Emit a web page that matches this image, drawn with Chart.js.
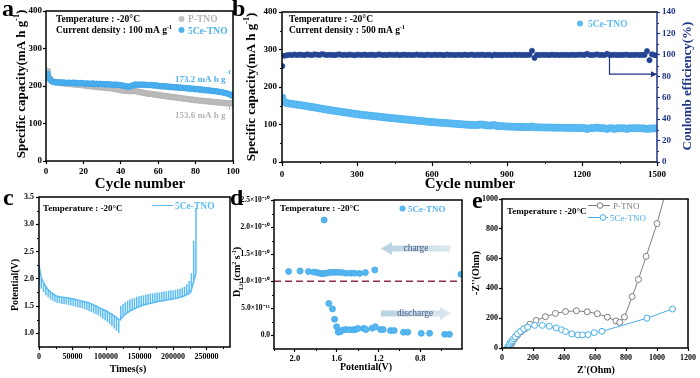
<!DOCTYPE html>
<html><head><meta charset="utf-8">
<script src="https://cdn.jsdelivr.net/npm/chart.js@4.4.1/dist/chart.umd.min.js"></script>
<style>
html,body{margin:0;padding:0;background:#fff;}
#wrap{position:relative;width:700px;height:378px;overflow:hidden;background:#fff;}
canvas{position:absolute;}
</style></head><body>
<div id="wrap">
<canvas id="cb" width="470" height="192" style="left:230px;top:0px"></canvas>
<canvas id="ca" width="250" height="192" style="left:0px;top:0px"></canvas>
<canvas id="cd" width="240" height="188" style="left:230px;top:190px"></canvas>
<canvas id="cc" width="240" height="188" style="left:0px;top:190px"></canvas>
<canvas id="ce" width="230" height="188" style="left:470px;top:190px"></canvas>
</div>
<script>
// ---------------- DATA ----------------
// Panel a: cycling at 100 mA/g, -20 C
const aCycles = [1,2,3,4,5,6,7,8,9,10,11,12,13,14,15,16,17,18,19,20,21,22,23,24,25,26,27,28,29,30,31,32,33,34,35,36,37,38,39,40,41,42,43,44,45,46,47,48,49,50,51,52,53,54,55,56,57,58,59,60,61,62,63,64,65,66,67,68,69,70,71,72,73,74,75,76,77,78,79,80,81,82,83,84,85,86,87,88,89,90,91,92,93,94,95,96,97,98,99,100];
const a5CeTNO = [232,218,213,211,210,210,209,210,209,209,208,209,208,208,209,207,208,207,208,207,206,207,206,206,207,205,206,205,206,205,205,204,205,204,204,203,204,203,203,202,201,200,199,198,199,200,203,204,203,204,203,204,203,203,202,203,202,201,202,200,200,199,200,198,199,197,198,197,196,197,195,196,195,194,195,193,194,192,193,191,192,190,191,189,190,188,189,187,187,186,186,185,184,184,182,181,180,178,176,173.2];
const aPTNO = [240,222,214,211,210,209,208,208,207,207,206,206,205,205,204,204,203,203,202,202,201,200,200,199,199,198,198,197,197,196,196,195,195,194,194,193,192,191,190,189,188,188,187,187,186,186,187,186,185,184,183,182,181,180,179,179,178,177,177,176,175,174,174,173,172,172,171,170,170,169,168,168,167,166,166,165,164,164,163,162,162,161,161,160,160,159,159,158,158,157,157,156,156,155,155,154,154,154,153.8,153.6];
const aXTicks = [0,20,40,60,80,100];
const aYTicks = [0,100,200,300,400];

// Panel b: long cycling at 500 mA/g (read every 10 cycles)
const bCycles = [1,10,20,30,40,50,60,70,80,90,100,110,120,130,140,150,160,170,180,190,200,210,220,230,240,250,260,270,280,290,300,310,320,330,340,350,360,370,380,390,400,410,420,430,440,450,460,470,480,490,500,510,520,530,540,550,560,570,580,590,600,610,620,630,640,650,660,670,680,690,700,710,720,730,740,750,760,770,780,790,800,810,820,830,840,850,860,870,880,890,900,910,920,930,940,950,960,970,980,990,1000,1010,1020,1030,1040,1050,1060,1070,1080,1090,1100,1110,1120,1130,1140,1150,1160,1170,1180,1190,1200,1210,1220,1230,1240,1250,1260,1270,1280,1290,1300,1310,1320,1330,1340,1350,1360,1370,1380,1390,1400,1410,1420,1430,1440,1450,1460,1470,1480,1490,1500];
const bCapacity = [172,
160,157,156,155,154,153,152,151,150,149,
147.5,146.5,145.5,144.5,143,142,141,139.5,138.5,137.5,
136.5,135.5,134.5,133.5,132.5,131.5,130.5,129.5,128.5,127.5,
126.5,126,125,124.5,123.5,123,122,121.5,120.5,120,
119,118.5,117.5,117,116.5,115.5,115,114.5,113.5,113,
112.5,111.5,111,110.5,109.5,109,108.5,107.5,107,106.5,
106,105.5,105,104.5,104,103.5,103,102.5,102,101.5,
101,100.5,100,99.5,99,99,98.5,98.5,99.5,100,
98.5,97.5,97,98,98.5,96,95.5,95.5,95,94.5,
94.5,94,94,93.5,93.5,93.5,93,93,93,94.5,
92.5,92.5,92.5,92,92,92,92,91.5,91.5,91.5,
91.5,91.5,91,91,91,91,91,91,90.5,90.5,
90.5,88,90,90.5,90.5,92,90.5,90,90,88,
90,90,88,90,90,90,90,88,90,90,
90,90,90,89.5,89.5,88,89,89.5,89.5,89.5];
const bCoulombEff = [89.5,
99.2,99.6,100.1,99.8,100.3,99.9,100.2,100.0,99.7,100.4,
100.1,99.8,100.5,100.2,99.9,100.6,100.3,99.8,100.1,100.0,
99.7,100.2,100.4,99.9,100.1,99.8,100.3,100.0,99.6,100.2,
100.1,99.9,100.3,99.8,100.0,100.2,99.7,100.1,100.4,99.9,
100.0,99.8,100.2,100.1,99.9,100.3,99.7,100.0,100.2,99.9,
100.1,99.8,100.0,100.3,99.9,100.1,99.7,100.2,100.0,99.8,
100.2,99.9,100.1,100.0,99.7,100.3,99.9,100.1,99.8,100.0,
100.1,99.8,100.2,99.9,100.0,100.3,99.7,100.1,99.9,100.2,
99.8,100.0,100.1,99.4,100.2,99.9,100.0,99.8,100.1,99.9,
100.0,99.8,100.2,99.9,100.1,99.8,100.0,99.9,100.1,103.8,
97.2,100.0,99.8,100.1,99.9,100.0,99.8,100.2,99.9,100.0,
99.8,100.1,99.9,100.0,99.8,100.1,99.9,100.0,100.2,100.1,
99.9,101.0,100.0,99.8,100.1,100.4,99.9,100.0,99.8,101.0,
100.0,99.9,100.1,99.8,100.0,99.9,100.1,100.2,99.8,100.0,
99.9,100.1,99.8,100.0,99.9,103.5,95.0,100.5,99.8,99.5];
const bXTicks = [0,300,600,900,1200,1500];
const bYTicks = [0,100,200,300,400];
const bY2Ticks = [0,20,40,60,80,100,120,140];

// Panel c: GITT (times in s, potentials in V)
const cDisTime = [0,3400,6800,10200,13600,17000,20400,23800,27200,30600,34000,37400,40800,44200,47600,51000,54400,57800,61200,64600,68000,71400,74800,78200,81600,85000,88400,91800,95200,98600,102000,105400,108800,112200,115600,119000];
const cDisRelax = [2.25,2.02,1.93,1.86,1.80,1.76,1.73,1.70,1.68,1.67,1.66,1.66,1.65,1.65,1.64,1.63,1.62,1.61,1.60,1.59,1.58,1.57,1.56,1.54,1.52,1.50,1.48,1.46,1.44,1.42,1.40,1.37,1.35,1.32,1.29,1.25];
const cDisPulse = [1.90,1.82,1.76,1.70,1.66,1.62,1.60,1.58,1.56,1.55,1.54,1.54,1.53,1.52,1.51,1.50,1.49,1.48,1.47,1.46,1.44,1.43,1.41,1.39,1.37,1.35,1.33,1.30,1.27,1.24,1.21,1.17,1.13,1.09,1.05,1.00];
const cChgTime = [122000,125400,128800,132200,135600,139000,142400,145800,149200,152600,156000,159400,162800,166200,169600,173000,176400,179800,183200,186600,190000,193400,196800,200200,203600,207000,210400,213800,217200,220600,224000,227400,230800,234200];
const cChgRelax = [1.26,1.31,1.35,1.38,1.41,1.43,1.45,1.47,1.49,1.50,1.52,1.53,1.54,1.55,1.56,1.57,1.58,1.59,1.60,1.60,1.61,1.62,1.62,1.63,1.64,1.65,1.66,1.67,1.69,1.71,1.74,1.80,1.95,2.10];
const cChgPulse = [1.50,1.54,1.57,1.60,1.62,1.64,1.65,1.67,1.68,1.69,1.70,1.71,1.72,1.73,1.73,1.74,1.75,1.75,1.76,1.77,1.77,1.78,1.79,1.79,1.80,1.81,1.82,1.84,1.86,1.90,1.96,2.10,2.70,3.30];
const cXTicks = [0,50000,100000,150000,200000,250000];
const cYTicks = [1.0,1.5,2.0,2.5,3.0,3.5];

// Panel d: Li+ diffusion coefficient (units of 1e-10 cm2/s) vs potential (V)
const dChargeV = [2.06,1.95,1.87,1.82,1.79,1.765,1.74,1.72,1.72,1.70,1.67,1.645,1.615,1.585,1.55,1.51,1.465,1.43,1.38,1.325,1.235,0.41];
const dChargeD = [1.18,1.19,1.18,1.17,1.16,1.15,1.14,2.13,1.145,1.15,1.16,1.165,1.165,1.165,1.16,1.15,1.15,1.15,1.145,1.16,1.21,1.13];
const dDischargeV = [1.675,1.64,1.62,1.60,1.585,1.565,1.54,1.51,1.475,1.44,1.42,1.395,1.34,1.32,1.26,1.23,1.18,1.155,1.085,1.05,0.96,0.92,0.79,0.71,0.565,0.52];
const dDischargeD = [0.59,0.49,0.30,0.16,0.06,0.07,0.10,0.11,0.105,0.105,0.11,0.13,0.13,0.11,0.135,0.16,0.11,0.11,0.09,0.09,0.06,0.06,0.04,0.04,0.02,0.02];
const dRefLevel = 1.0;
const dXTicks = [2.0,1.6,1.2,0.8];
const dYTicks = [0,0.5,1.0,1.5,2.0,2.5];
const dYLabels = ['0.0','5.0×10⁻¹¹','1.0×10⁻¹⁰','1.5×10⁻¹⁰','2.0×10⁻¹⁰','2.5×10⁻¹⁰'];

// Panel e: Nyquist plots (Ohm)
const ePTNO_Zre = [45,55,65,80,100,125,150,180,220,280,345,410,480,550,615,680,735,760,790,840,880,930,1000,1065];
const ePTNO_Zim = [0,15,35,60,85,110,130,160,185,210,232,245,250,243,230,207,182,172,208,345,460,615,835,1080];
const e5Ce_Zre = [35,40,45,50,58,66,75,85,100,120,140,165,210,260,305,350,385,410,450,490,520,555,595,645,935,1100];
const e5Ce_Zim = [0,10,20,30,40,50,62,75,95,112,128,140,152,152,146,135,122,110,95,88,88,90,103,112,200,262];
const eXTicks = [0,200,400,600,800,1000,1200];
const eYTicks = [0,200,400,600,800,1000];

// ---------------- STYLE / HELPERS ----------------
const SER = '"Liberation Serif","Times New Roman",serif';
const BLUE = '#4fb2ef', BLUE_C = '#5bbcf3', GRAYA = '#c2c2c2', GRAYT = '#b3b3b3';
const NAVY = '#1f3585', NAVYD = '#22418f', GRAYE = '#7d7d7d', BLUEE = '#47afea';
Chart.defaults.font.family = SER;
Chart.defaults.color = '#000';

function pts(xs, ys){ return xs.map((x,i)=>({x:x, y:ys[i]})); }
function gitt(t, a, b){ const p=[]; t.forEach((x,i)=>{ p.push({x:x,y:a[i]},{x:x,y:b[i]},{x:x,y:a[i]}); }); return p; }

function axisOpts(o){
  return {
    type:'linear', position:o.pos, min:o.min, max:o.max, reverse:!!o.reverse,
    afterBuildTicks: s=>{ s.ticks = o.ticks.map(v=>({value:v})); },
    afterFit: s=>{ if(o.pos==='bottom') s.height=o.fit; else s.width=o.fit; s.paddingLeft=0; s.paddingRight=0; s.paddingTop=0; s.paddingBottom=0; },
    grid:{drawOnChartArea:false, drawTicks:true, tickLength:o.tl||3, tickColor:o.color||'#000', tickWidth:1.2},
    border:{display:false},
    ticks:{autoSkip:false, maxRotation:0, minRotation:0, padding:(o.pad==null?2:o.pad), color:o.color||'#000',
      font:{family:SER, size:o.size||9, weight:'bold'}, callback: o.labels || (v=>String(v))},
    title:{display:false}
  };
}
function common(pad, scales){
  return {responsive:false, animation:false, devicePixelRatio:1, events:[],
    layout:{padding:pad}, plugins:{legend:{display:false}, tooltip:{enabled:false}}, scales:scales};
}
function drawRich(ctx, t){
  ctx.save();
  const sz0 = t.segs[0][1];
  ctx.translate(t.x + (t.rot ? sz0*0.33 : 0), t.y);
  if(t.rot) ctx.rotate(-Math.PI/2);
  let total=0; const ws=[];
  t.segs.forEach(s=>{ ctx.font=(s[4]||'bold')+' '+s[1]+'px '+SER; const w=ctx.measureText(s[0]).width; ws.push(w); total+=w; });
  let cx = t.align==='center' ? -total/2 : (t.align==='right' ? -total : 0);
  ctx.textBaseline='alphabetic'; ctx.textAlign='left';
  t.segs.forEach((s,i)=>{ ctx.font=(s[4]||'bold')+' '+s[1]+'px '+SER; ctx.fillStyle=s[3]||'#000'; ctx.fillText(s[0], cx, s[2]||0); cx+=ws[i]; });
  ctx.restore();
}
function dot(ctx,x,y,r,fill,stroke){ ctx.beginPath(); ctx.arc(x,y,r,0,Math.PI*2); ctx.fillStyle=fill; ctx.fill(); if(stroke){ctx.strokeStyle=stroke;ctx.lineWidth=1;ctx.stroke();} }
function deco(spec){
  return {id:'deco',
    afterDatasetsDraw(chart){
      const ctx=chart.ctx, ca=chart.chartArea;
      ctx.save();
      (spec.minor||[]).forEach(m=>{
        const sc=chart.scales[m.axis]; ctx.strokeStyle=m.color||'#000'; ctx.lineWidth=1;
        m.vals.forEach(v=>{
          const p=Math.round(sc.getPixelForValue(v))+0.5; ctx.beginPath();
          if(m.axis==='x'){ ctx.moveTo(p,ca.bottom); ctx.lineTo(p,ca.bottom+2); }
          else if(m.side==='right'){ ctx.moveTo(ca.right,p); ctx.lineTo(ca.right+2,p); }
          else { ctx.moveTo(ca.left,p); ctx.lineTo(ca.left-2,p); }
          ctx.stroke();
        });
      });
      const fc=spec.frame||{}; ctx.lineWidth=1.5;
      const L=ca.left, R=ca.right, T=ca.top, B=ca.bottom;
      const side=(c,x1,y1,x2,y2)=>{ctx.strokeStyle=c;ctx.beginPath();ctx.moveTo(x1,y1);ctx.lineTo(x2,y2);ctx.stroke();};
      side(fc.top||'#000',L-0.75,T,R+0.75,T);
      side(fc.bottom||'#000',L-0.75,B,R+0.75,B);
      side(fc.left||'#000',L,T,L,B);
      side(fc.right||'#000',R,T,R,B);
      if(spec.canvas) spec.canvas(ctx, chart);
      ctx.restore();
    },
    afterDraw(chart){
      const ctx=chart.ctx; ctx.save(); ctx.translate(-spec.ox,-spec.oy);
      if(spec.page) spec.page(ctx);
      (spec.texts||[]).forEach(t=>drawRich(ctx,t));
      ctx.restore();
    }
  };
}

// ---------------- PANEL A ----------------
new Chart(document.getElementById('ca'), {
  type:'scatter',
  data:{datasets:[
    {label:'5Ce-TNO', data:pts(aCycles,a5CeTNO), pointRadius:2.8, pointBackgroundColor:BLUE, pointBorderColor:'#3ea6ea', pointBorderWidth:0.8},
    {label:'P-TNO', data:pts(aCycles,aPTNO), pointRadius:2.8, pointBackgroundColor:GRAYA, pointBorderColor:'#b0b0b0', pointBorderWidth:0.8}
  ]},
  options: common({top:11,right:17,left:0,bottom:0}, {
    x: axisOpts({pos:'bottom',min:0,max:100,ticks:aXTicks,fit:31,tl:3,pad:2,size:9}),
    y: axisOpts({pos:'left',min:0,max:400,ticks:aYTicks,fit:46,tl:3,pad:1,size:9})
  }),
  plugins:[deco({ox:0,oy:0,
    page(ctx){ dot(ctx,181.5,19,3,GRAYA); dot(ctx,181.5,30,3,BLUE); },
    texts:[
      {x:2,y:16,segs:[['a',24]]},
      {x:56,y:21.5,segs:[['Temperature : -20°C',9.5]]},
      {x:56,y:32.5,segs:[['Current density : 100 mA g',9.5],['-1',6,-4]]},
      {x:188,y:22,segs:[['P-TNO',9.5,0,GRAYT]]},
      {x:188,y:33.5,segs:[['5Ce-TNO',9.5,0,BLUE]]},
      {x:175,y:82,segs:[['173.2 mA h g',9,0,BLUE],['-1',7,-8,BLUE]]},
      {x:175,y:118,segs:[['153.6 mA h g',9,0,GRAYT],['-1',7,-8,GRAYT]]},
      {x:20.5,y:84,rot:true,align:'center',segs:[['Specific capacity(mA h g',13],['-1',8,-6],[')',13]]},
      {x:140,y:188,align:'center',segs:[['Cycle number',15]]}
    ]})]
});

// ---------------- PANEL B ----------------
new Chart(document.getElementById('cb'), {
  type:'scatter',
  data:{datasets:[
    {label:'CE', yAxisID:'y2', data:pts(bCycles,bCoulombEff), pointRadius:2.6, pointBackgroundColor:NAVYD, pointBorderColor:'#2c4e9c', pointBorderWidth:0.8},
    {label:'5Ce-TNO', yAxisID:'y', data:pts(bCycles,bCapacity), pointRadius:3.6, pointBackgroundColor:'#5dbcf3', pointBorderColor:'#4fb3ef', pointBorderWidth:0.8}
  ]},
  options: common({top:12,right:0,left:0,bottom:0}, {
    x: axisOpts({pos:'bottom',min:0,max:1500,ticks:bXTicks,fit:30,tl:4,pad:3,size:9}),
    y: axisOpts({pos:'left',min:0,max:400,ticks:bYTicks,fit:52,tl:3,pad:2,size:9}),
    y2: axisOpts({pos:'right',min:0,max:140,ticks:bY2Ticks,fit:43,tl:3,pad:2,size:9,color:NAVY})
  }),
  plugins:[deco({ox:230,oy:0, frame:{right:NAVY},
    minor:[{axis:'x',vals:[150,450,750,1050,1350]},{axis:'y',vals:[50,150,250,350]},{axis:'y2',side:'right',color:NAVY,vals:[10,30,50,70,90,110,130]}],
    canvas(ctx, chart){
      const sx=chart.scales.x, s2=chart.scales.y2, ca=chart.chartArea;
      const x=sx.getPixelForValue(1310), y1=s2.getPixelForValue(99), y2=s2.getPixelForValue(82);
      ctx.strokeStyle=NAVY; ctx.lineWidth=1.2; ctx.beginPath(); ctx.moveTo(x,y1); ctx.lineTo(x,y2); ctx.lineTo(ca.right-1,y2); ctx.stroke();
      ctx.fillStyle=NAVY; ctx.beginPath(); ctx.moveTo(ca.right,y2); ctx.lineTo(ca.right-6,y2-3); ctx.lineTo(ca.right-6,y2+3); ctx.closePath(); ctx.fill();
    },
    page(ctx){ dot(ctx,580,23.5,3,'#5dbcf3'); },
    texts:[
      {x:232,y:16,segs:[['b',24]]},
      {x:289,y:22,segs:[['Temperature : -20°C',9.5]]},
      {x:289,y:33,segs:[['Current density : 500 mA g',9.5],['-1',6,-4]]},
      {x:588,y:27,segs:[['5Ce-TNO',9.5,0,'#5dbcf3']]},
      {x:251,y:87,rot:true,align:'center',segs:[['Specific capacity(mA h g',13],['-1',8,-6],[')',13]]},
      {x:687,y:86,rot:true,align:'center',segs:[['Coulomb efficiency(%)',13,0,NAVY]]},
      {x:470,y:188,align:'center',segs:[['Cycle number',15]]}
    ]})]
});

// ---------------- PANEL C ----------------
new Chart(document.getElementById('cc'), {
  type:'scatter',
  data:{datasets:[
    {label:'5Ce-TNO', data:gitt(cDisTime,cDisRelax,cDisPulse).concat(gitt(cChgTime,cChgRelax,cChgPulse)), showLine:true, borderColor:BLUE_C, borderWidth:1.5, pointRadius:0, tension:0}
  ]},
  options: common({top:7,right:10,left:0,bottom:0}, {
    x: axisOpts({pos:'bottom',min:0,max:285000,ticks:cXTicks,fit:31,tl:3,pad:2,size:8}),
    y: axisOpts({pos:'left',min:0.75,max:3.5,ticks:cYTicks,fit:39,tl:3,pad:2,size:8,labels:v=>v.toFixed(1)})
  }),
  plugins:[deco({ox:0,oy:190,
    minor:[{axis:'x',vals:[25000,75000,125000,175000,225000,275000]},{axis:'y',vals:[1.25,1.75,2.25,2.75,3.25]}],
    page(ctx){ ctx.strokeStyle=BLUE_C; ctx.lineWidth=1; ctx.beginPath(); ctx.moveTo(152,205.5); ctx.lineTo(173,205.5); ctx.stroke(); },
    texts:[
      {x:3,y:205,segs:[['c',24]]},
      {x:43,y:211,segs:[['Temperature : -20°C',9]]},
      {x:175,y:209,segs:[['5Ce-TNO',9.5,0,BLUE_C]]},
      {x:15,y:285,rot:true,align:'center',segs:[['Potential(V)',10]]},
      {x:128,y:372,align:'center',segs:[['Times(s)',10]]}
    ]})]
});

// ---------------- PANEL D ----------------
function fatArrow(ctx,xTail,xTip,y,fillA,fillB){
  const dir = xTip < xTail ? -1 : 1, hl=11, hh=6.5, sh=3;
  const g=ctx.createLinearGradient(xTail,0,xTip,0); g.addColorStop(0,fillA); g.addColorStop(1,fillB);
  ctx.fillStyle=g; ctx.beginPath();
  ctx.moveTo(xTail,y-sh); ctx.lineTo(xTip-dir*hl,y-sh); ctx.lineTo(xTip-dir*hl,y-hh); ctx.lineTo(xTip,y);
  ctx.lineTo(xTip-dir*hl,y+hh); ctx.lineTo(xTip-dir*hl,y+sh); ctx.lineTo(xTail,y+sh); ctx.closePath(); ctx.fill();
}
new Chart(document.getElementById('cd'), {
  type:'scatter',
  data:{datasets:[
    {label:'charge', data:pts(dChargeV,dChargeD), pointRadius:3, pointBackgroundColor:'#56b6f0', pointBorderColor:'#3fa7ea', pointBorderWidth:0.8},
    {label:'discharge', data:pts(dDischargeV,dDischargeD), pointRadius:3, pointBackgroundColor:'#56b6f0', pointBorderColor:'#3fa7ea', pointBorderWidth:0.8},
    {label:'ref', data:[{x:2.2,y:dRefLevel},{x:0.4,y:dRefLevel}], showLine:true, pointRadius:0, borderColor:'#8e2a55', borderWidth:1.5, borderDash:[7,4]}
  ]},
  options: common({top:10,right:8,left:0,bottom:0}, {
    x: axisOpts({pos:'bottom',min:0.4,max:2.2,reverse:true,ticks:dXTicks,fit:29,tl:3,pad:2,size:8.5,labels:v=>v.toFixed(1)}),
    y: axisOpts({pos:'left',min:-0.25,max:2.5,ticks:dYTicks,fit:44,tl:3,pad:1,size:7.5,labels:(v,i)=>dYLabels[i]})
  }),
  plugins:[deco({ox:230,oy:190,
    minor:[{axis:'x',vals:[2.2,1.8,1.4,1.0,0.6]},{axis:'y',vals:[0.25,0.75,1.25,1.75,2.25]}],
    page(ctx){
      dot(ctx,402.5,208.5,3,'#56b6f0');
      fatArrow(ctx,450,381,248.5,'#dbe8ef','#b8d2e0');
      fatArrow(ctx,381,451,313.5,'#b8d2e0','#dbe8ef');
    },
    texts:[
      {x:230,y:205,segs:[['d',24]]},
      {x:280,y:211,segs:[['Temperature : -20°C',9]]},
      {x:408,y:212,segs:[['5Ce-TNO',9,0,'#56b6f0']]},
      {x:237,y:272,rot:true,align:'center',segs:[['D',10],['Li+',6,3],['(cm',10],['2',6,-4],[' s',10],['-1',6,-4],[')',10]]},
      {x:366,y:370,align:'center',segs:[['Potential(V)',10]]},
      {x:416,y:251,align:'center',segs:[['charge',9.5,0,'#4b5a86','normal']]},
      {x:415,y:316,align:'center',segs:[['discharge',9.5,0,'#4b5a86','normal']]}
    ]})]
});

// ---------------- PANEL E ----------------
new Chart(document.getElementById('ce'), {
  type:'scatter',
  data:{datasets:[
    {label:'5Ce-TNO', data:pts(e5Ce_Zre,e5Ce_Zim), showLine:true, borderColor:BLUEE, borderWidth:1, pointRadius:3, pointBackgroundColor:'#fff', pointBorderColor:BLUEE, pointBorderWidth:1},
    {label:'P-TNO', data:pts(ePTNO_Zre,ePTNO_Zim), showLine:true, borderColor:GRAYE, borderWidth:1, pointRadius:3, pointBackgroundColor:'#fff', pointBorderColor:GRAYE, pointBorderWidth:1}
  ]},
  options: common({top:9,right:12,left:0,bottom:0}, {
    x: axisOpts({pos:'bottom',min:0,max:1200,ticks:eXTicks,fit:30,tl:3,pad:2,size:8}),
    y: axisOpts({pos:'left',min:0,max:1000,ticks:eYTicks,fit:32,tl:3,pad:1,size:8})
  }),
  plugins:[deco({ox:470,oy:190,
    page(ctx){
      ctx.lineWidth=1;
      ctx.strokeStyle=GRAYE; ctx.beginPath(); ctx.moveTo(588,205.5); ctx.lineTo(610,205.5); ctx.stroke(); dot(ctx,600,205.5,2.8,'#fff',GRAYE);
      ctx.strokeStyle=BLUEE; ctx.beginPath(); ctx.moveTo(588,217.5); ctx.lineTo(608,217.5); ctx.stroke(); dot(ctx,603,217.5,2.8,'#fff',BLUEE);
    },
    texts:[
      {x:472,y:208,segs:[['e',24]]},
      {x:507,y:214,segs:[['Temperature : -20°C',9]]},
      {x:613,y:209,segs:[['P-TNO',9,0,GRAYE,'normal']]},
      {x:610,y:221,segs:[['5Ce-TNO',9,0,BLUEE,'normal']]},
      {x:476,y:273,rot:true,align:'center',segs:[["-Z''(Ohm)",10]]},
      {x:596,y:373,align:'center',segs:[["Z'(Ohm)",10]]}
    ]})]
});
</script>
</body></html>
